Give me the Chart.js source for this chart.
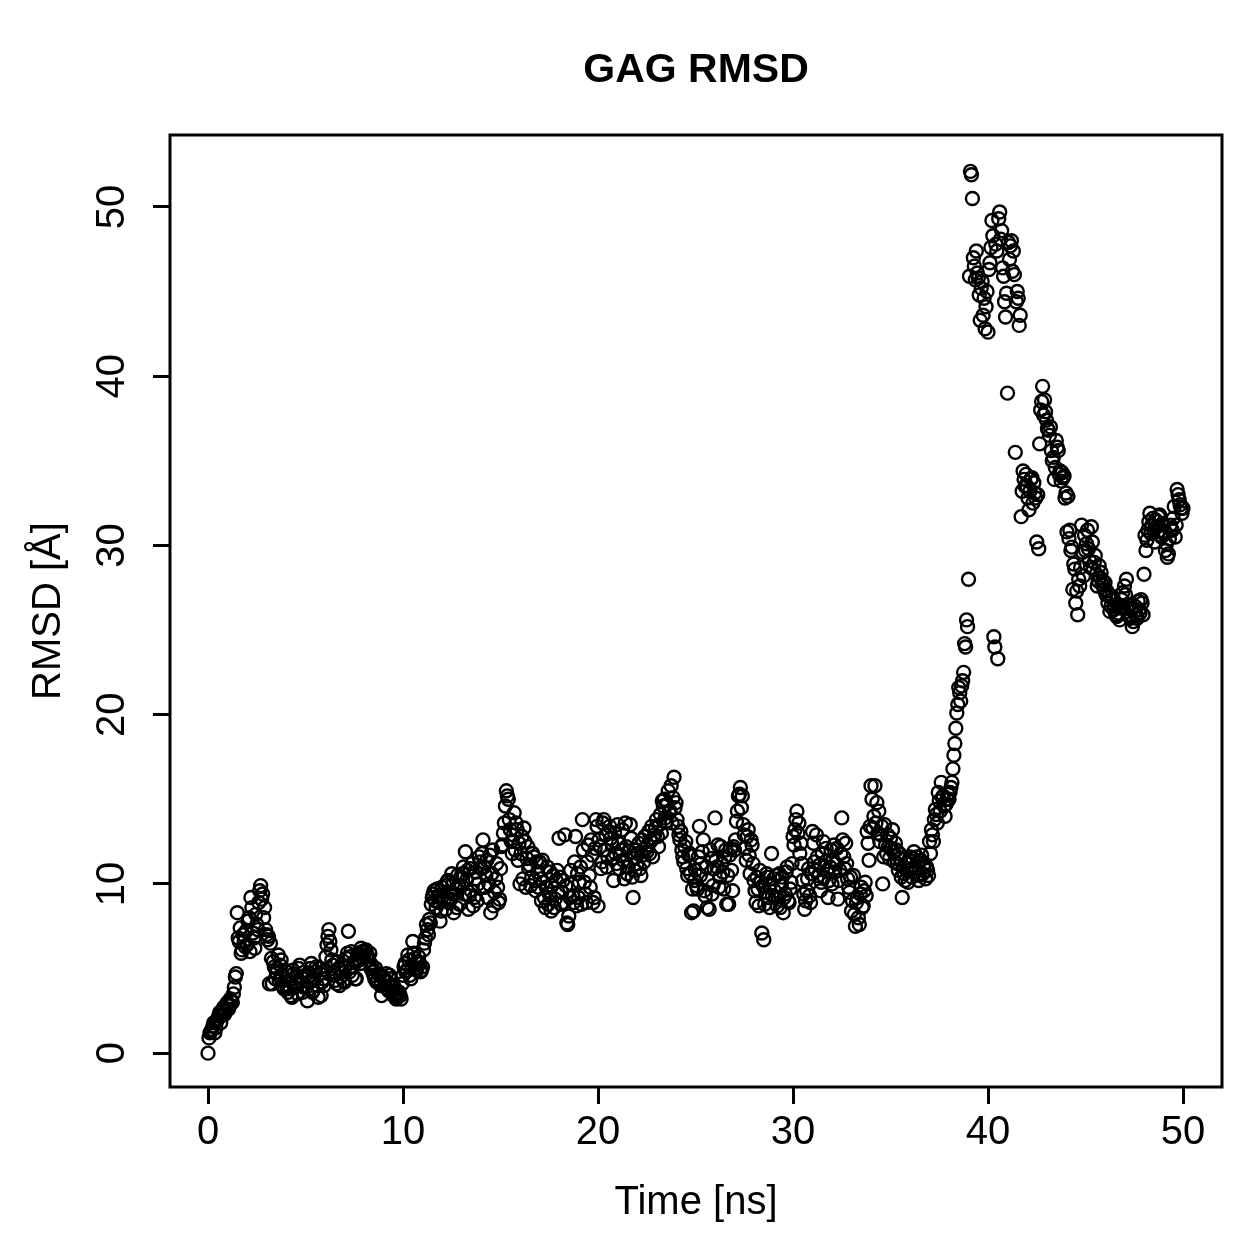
<!DOCTYPE html>
<html>
<head>
<meta charset="utf-8">
<title>GAG RMSD</title>
<script src="https://cdn.jsdelivr.net/npm/chart.js@4.4.1/dist/chart.umd.min.js"></script>
<style>
  body { margin: 0; background: #fff; }
</style>
</head>
<body>
<canvas id="rmsdChart" width="1259" height="1259"></canvas>
<script>
// frames were saved every 0.05 ns; kept here as two interleaved sets
const frameStep = 0.1;

// RMSD [Å] at t = 0.0, 0.1, 0.2 ... ns (one row per ns)
const rmsd = [
  0.0, 1.2, 1.4, 1.8, 1.5, 2.0, 2.4, 2.2, 2.7, 2.5,
  3.0, 2.8, 3.1, 3.5, 4.5, 8.3, 6.6, 5.9, 7.0, 6.3,
  6.4, 8.0, 9.2, 7.1, 6.2, 7.6, 8.9, 9.9, 9.4, 8.6,
  7.0, 6.9, 6.5, 4.1, 5.1, 4.8, 5.8, 5.2, 4.6, 3.8,
  4.4, 3.6, 3.9, 3.3, 4.7, 4.1, 3.5, 5.2, 4.5, 3.9,
  4.6, 3.1, 4.2, 5.3, 3.7, 4.8, 4.0, 5.0, 3.4, 4.4,
  4.9, 6.4, 7.3, 6.1, 5.2, 4.6, 4.1, 5.0, 4.5, 4.8,
  4.2, 5.6, 7.2, 5.7, 4.6, 5.4, 4.4, 5.9, 5.3, 6.0,
  5.8, 6.1, 5.7, 5.9, 5.2, 4.6, 5.0, 4.3, 4.6, 3.4,
  4.5, 3.9, 4.2, 4.6, 4.0, 3.4, 3.5, 3.3, 3.6, 3.2,
  4.6, 5.3, 4.9, 5.5, 4.4, 6.6, 5.6, 4.9, 5.7, 4.8,
  5.1, 6.5, 7.6, 7.0, 7.7, 9.2, 9.6, 8.6, 9.3, 7.8,
  9.8, 9.0, 8.5, 10.2, 9.5, 10.6, 8.3, 9.7, 10.5, 8.8,
  9.9, 11.0, 11.9, 10.8, 9.3, 9.6, 8.7, 10.3, 9.0, 11.6,
  10.9, 12.6, 9.8, 11.4, 10.0, 8.3, 12.0, 9.5, 11.2, 8.9,
  10.9, 12.3, 13.6, 15.5, 15.0, 13.2, 11.8, 14.2, 13.6, 11.4,
  10.0, 12.8, 13.3, 9.8, 12.2, 11.1, 10.4, 11.6, 9.6, 10.7,
  11.3, 9.0, 10.1, 8.6, 11.0, 9.4, 8.4, 10.5, 9.1, 10.8,
  12.7, 8.8, 10.2, 12.9, 7.7, 8.1, 10.8, 9.3, 11.3, 8.7,
  9.2, 11.0, 13.8, 10.1, 8.9, 12.3, 9.8, 11.7, 9.2, 13.8,
  8.7, 12.2, 11.3, 13.8, 12.9, 11.6, 13.4, 12.4, 10.2, 11.8,
  13.5, 10.9, 12.0, 11.4, 13.6, 10.6, 11.9, 12.7, 9.2, 10.8,
  11.2, 12.4, 10.5, 11.7, 12.8, 11.9, 13.1, 12.5, 11.6, 12.9,
  13.8, 12.2, 14.1, 14.9, 15.0, 13.7, 15.5, 14.3, 13.6, 16.3,
  14.8, 13.4, 12.6, 12.0, 11.3, 12.5, 10.5, 11.8, 8.3, 8.4,
  10.8, 9.7, 13.4, 11.2, 12.6, 9.3, 8.6, 8.5, 11.5, 9.9,
  13.9, 11.0, 9.8, 12.2, 10.7, 11.6, 8.8, 8.8, 12.1, 9.6,
  12.0, 13.7, 15.2, 15.7, 15.2, 12.9, 11.4, 13.2, 10.6, 12.3,
  10.2, 8.9, 9.7, 10.8, 7.1, 6.7, 9.5, 10.4, 8.6, 11.8,
  10.3, 9.2, 8.7, 10.6, 9.9, 8.3, 9.4, 11.0, 8.9, 10.1,
  12.8, 13.2, 14.3, 13.6, 12.4, 10.2, 8.5, 9.6, 10.9, 8.9,
  13.1, 11.3, 12.9, 10.5, 9.6, 11.8, 10.4, 12.1, 9.2, 11.0,
  10.0, 12.3, 11.2, 9.1, 10.8, 13.9, 11.6, 12.4, 10.3, 9.5,
  8.4, 10.5, 7.5, 9.2, 7.6, 9.8, 8.7, 10.1, 13.1, 11.4,
  15.8, 13.3, 15.8, 14.8, 14.3, 12.9, 10.0, 13.5, 11.8, 12.2,
  12.7, 13.2, 11.3, 12.0, 10.8, 11.5, 9.2, 10.6, 11.2, 10.1,
  11.6, 10.4, 11.9, 10.9, 11.3, 10.5, 11.7, 11.0, 10.3, 10.8,
  12.5, 13.2, 12.5, 14.4, 13.6, 14.9, 16.0, 15.2, 14.0, 15.0,
  15.0, 15.7, 16.8, 18.3, 20.1, 21.6, 20.8, 22.0, 24.2, 25.6,
  28.0, 52.1, 50.5, 46.5, 47.4, 45.8, 43.3, 45.6, 44.6, 44.1,
  42.6, 46.7, 49.2, 24.6, 47.8, 23.3, 49.7, 48.6, 45.9, 43.5,
  39.0, 46.9, 48.0, 47.4, 35.5, 45.0, 43.0, 31.7, 34.4, 33.5,
  33.5, 32.1, 33.9, 32.5, 33.1, 30.2, 29.8, 38.0, 39.4, 38.6,
  37.4, 36.8, 37.0, 35.0, 33.9, 36.2, 35.6, 34.4, 34.3, 34.1,
  33.1, 32.9, 30.9, 29.9, 28.9, 26.6, 25.9, 27.6, 31.2, 28.2,
  29.7, 30.9, 29.1, 31.1, 28.6, 29.4, 27.6, 28.8, 28.4, 27.9,
  27.8, 27.3, 27.0, 26.4, 26.8, 26.4, 25.8, 26.0, 26.3, 27.2,
  27.6, 28.0, 26.5, 25.7, 25.2, 26.1, 25.9, 26.7, 26.0, 26.6,
  28.3, 29.7, 30.9, 31.9, 31.2, 30.9, 31.5, 30.8, 31.8, 30.5,
  31.2, 29.7, 29.3, 30.4, 31.0, 31.6, 30.5, 33.3, 32.7, 32.2,
  32.2
];

// RMSD [Å] at t = 0.05, 0.15, 0.25 ... ns (one row per ns)
const rmsdMid = [
  0.9, 1.3, 1.6, 1.2, 1.9, 2.2, 1.8, 2.5, 2.3, 2.9,
  2.6, 3.2, 3.0, 3.9, 4.7, 6.8, 7.4, 6.1, 6.6, 7.2,
  7.8, 6.0, 8.6, 6.8, 8.2, 7.3, 9.6, 9.1, 8.0, 7.3,
  6.7, 4.1, 5.6, 5.4, 4.4, 5.0, 4.3, 5.5, 4.0, 4.9,
  3.8, 4.3, 3.4, 4.9, 3.9, 4.5, 5.0, 4.2, 3.6, 4.8,
  3.9, 4.5, 5.0, 3.6, 4.3, 5.1, 3.3, 4.7, 4.2, 4.0,
  5.7, 6.9, 6.6, 5.5, 4.8, 4.3, 5.4, 4.0, 5.2, 4.3,
  5.1, 5.9, 4.8, 6.0, 5.1, 4.4, 5.6, 5.5, 6.2, 5.6,
  6.0, 5.8, 5.5, 5.0, 4.8, 4.4, 4.2, 4.7, 4.0, 4.5,
  4.3, 4.7, 3.7, 4.4, 3.6, 3.9, 3.2, 3.5, 3.4, 4.1,
  5.1, 4.8, 5.8, 4.6, 5.2, 5.9, 5.0, 5.4, 5.3, 4.9,
  6.1, 6.8, 7.3, 7.9, 8.8, 9.4, 9.0, 9.7, 8.9, 8.4,
  9.3, 9.9, 10.1, 8.9, 9.1, 10.0, 9.4, 8.6, 9.9, 10.4,
  10.6, 9.4, 10.2, 8.5, 10.9, 11.2, 9.2, 10.7, 10.0, 11.3,
  11.8, 11.0, 10.5, 9.2, 11.7, 10.6, 8.7, 10.3, 9.8, 9.1,
  12.2, 13.0, 14.6, 15.2, 13.8, 12.5, 12.9, 12.0, 13.2, 12.4,
  11.8, 10.3, 12.5, 11.5, 10.9, 9.9, 11.8, 10.2, 11.3, 9.8,
  10.3, 11.4, 9.2, 9.8, 8.8, 10.7, 9.9, 8.6, 10.2, 9.5,
  10.4, 9.5, 8.9, 9.9, 7.6, 9.2, 10.0, 8.9, 12.8, 10.6,
  10.1, 8.8, 12.0, 9.4, 11.3, 10.5, 12.6, 8.9, 12.1, 13.4,
  12.6, 10.9, 13.6, 12.0, 11.0, 13.1, 12.7, 11.5, 13.0, 11.2,
  12.4, 11.7, 13.2, 10.3, 12.2, 11.0, 13.5, 10.4, 11.5, 12.0,
  11.8, 10.9, 12.6, 11.3, 12.1, 12.3, 11.8, 13.4, 12.7, 13.3,
  12.8, 13.5, 13.0, 14.6, 13.9, 14.7, 14.2, 15.8, 15.1, 14.5,
  13.8, 12.9, 13.1, 11.6, 12.2, 10.9, 11.7, 10.6, 9.7, 10.2,
  9.9, 11.6, 10.5, 11.9, 9.6, 11.0, 10.2, 12.0, 9.4, 10.9,
  11.4, 12.3, 10.4, 11.2, 9.7, 12.0, 10.5, 11.7, 10.8, 12.2,
  12.6, 14.3, 15.3, 14.5, 13.5, 12.1, 12.8, 11.7, 12.6, 11.2,
  9.6, 10.4, 8.7, 10.1, 9.9, 8.8, 10.6, 9.2, 10.0, 9.3,
  9.6, 10.5, 9.1, 8.6, 10.4, 9.2, 10.7, 9.0, 9.7, 11.2,
  12.3, 13.8, 13.0, 11.8, 11.2, 9.4, 9.0, 10.3, 9.3, 10.6,
  12.4, 10.8, 11.6, 11.1, 10.1, 12.5, 11.3, 10.8, 10.2, 12.0,
  11.4, 10.7, 12.1, 10.2, 11.8, 12.6, 10.9, 11.2, 9.8, 10.4,
  9.0, 8.2, 8.9, 8.0, 9.4, 8.6, 9.6, 9.3, 12.4, 13.4,
  15.0, 14.0, 13.6, 13.0, 12.5, 13.4, 11.6, 12.3, 12.9, 11.5,
  12.1, 11.9, 12.4, 11.2, 11.8, 10.4, 11.0, 10.2, 10.8, 11.4,
  10.9, 11.5, 10.7, 11.6, 10.2, 11.4, 10.6, 11.2, 11.0, 10.5,
  11.8, 12.9, 13.8, 14.1, 15.4, 14.3, 15.1, 14.6, 14.7, 15.3,
  15.4, 16.0, 17.6, 19.2, 20.6, 21.3, 21.7, 22.5, 24.0, 25.2,
  45.9, 51.9, 47.0, 45.7, 46.1, 44.8, 45.2, 43.6, 42.8, 45.0,
  46.3, 47.6, 48.3, 24.0, 47.4, 49.3, 48.1, 46.4, 44.4, 44.9,
  47.9, 47.7, 46.2, 46.0, 44.4, 44.6, 43.6, 33.2, 33.9, 34.2,
  32.8, 33.2, 34.0, 33.7, 32.8, 33.0, 36.0, 38.5, 37.7, 37.9,
  36.9, 36.5, 35.6, 35.2, 34.6, 35.8, 34.2, 33.8, 34.0, 32.8,
  30.8, 30.4, 29.7, 27.4, 28.6, 27.3, 28.0, 28.7, 29.6, 30.6,
  30.1, 29.8, 28.7, 30.2, 29.0, 28.3, 27.9, 28.1, 27.7, 27.4,
  27.1, 26.6, 26.1, 27.0, 26.2, 25.9, 26.5, 25.6, 26.8, 26.3,
  27.1, 26.3, 25.8, 26.2, 25.5, 26.4, 25.7, 26.2, 26.8, 25.9,
  30.6, 30.3, 31.4, 30.7, 31.6, 30.2, 31.1, 31.7, 30.6, 31.3,
  30.8, 30.1, 29.5, 31.2, 30.9, 32.3, 31.2, 33.0, 32.4, 31.9
];

const xTicks = [0, 10, 20, 30, 40, 50];
const yTicks = [0, 10, 20, 30, 40, 50];

const fontFamily = "'Liberation Sans', Arial, Helvetica, sans-serif";

const points = [];
rmsd.forEach((v, i) => {
  points.push({ x: +(i * frameStep).toFixed(2), y: v });
  if (i < rmsdMid.length) points.push({ x: +(i * frameStep + frameStep / 2).toFixed(2), y: rmsdMid[i] });
});

// R-style box round the plot region
const boxPlugin = {
  id: 'plotBox',
  afterDraw(chart) {
    const { ctx, chartArea: a } = chart;
    ctx.save();
    ctx.strokeStyle = '#000';
    ctx.lineWidth = 3;
    ctx.strokeRect(a.left, a.top, a.right - a.left, a.bottom - a.top);
    ctx.restore();
  }
};

new Chart(document.getElementById('rmsdChart'), {
  type: 'scatter',
  data: {
    datasets: [{
      label: 'RMSD',
      data: points,
      borderColor: '#000',
      backgroundColor: 'rgba(0,0,0,0)',
      pointRadius: 6.5,
      pointHoverRadius: 6.5,
      pointBorderWidth: 2.4,
      clip: false
    }]
  },
  options: {
    responsive: false,
    animation: false,
    layout: { padding: { left: 0, right: 37, top: 0, bottom: 0 } },
    plugins: {
      legend: { display: false },
      tooltip: { enabled: false },
      title: {
        display: true,
        text: 'GAG RMSD',
        fullSize: false,
        color: '#000',
        font: { family: fontFamily, size: 41, weight: 'bold' },
        padding: { top: 46, bottom: 39.8 }
      }
    },
    scales: {
      x: {
        type: 'linear',
        min: -1.95,
        max: 52.0,
        afterBuildTicks: s => { s.ticks = xTicks.map(v => ({ value: v })); },
        afterFit: s => { s.height = 172; },
        border: { display: false },
        grid: { drawOnChartArea: false, drawTicks: true, tickLength: 17, tickWidth: 3, tickColor: '#000' },
        ticks: { color: '#000', font: { family: fontFamily, size: 40 }, padding: 5, maxRotation: 0 },
        title: { display: true, text: 'Time [ns]', color: '#000', font: { family: fontFamily, size: 40 }, padding: { top: 0, bottom: 32 } }
      },
      y: {
        type: 'linear',
        min: -2.0,
        max: 54.25,
        afterBuildTicks: s => { s.ticks = yTicks.map(v => ({ value: v })); },
        afterFit: s => { s.width = 170; },
        border: { display: false },
        grid: { drawOnChartArea: false, drawTicks: true, tickLength: 17, tickWidth: 3, tickColor: '#000' },
        ticks: { color: '#000', font: { family: fontFamily, size: 40 }, padding: 18, minRotation: 90, maxRotation: 90, crossAlign: 'center' },
        title: { display: true, text: 'RMSD [Å]', color: '#000', font: { family: fontFamily, size: 40 }, padding: { top: 25, bottom: 0 } }
      }
    }
  },
  plugins: [boxPlugin]
});
</script>
</body>
</html>
